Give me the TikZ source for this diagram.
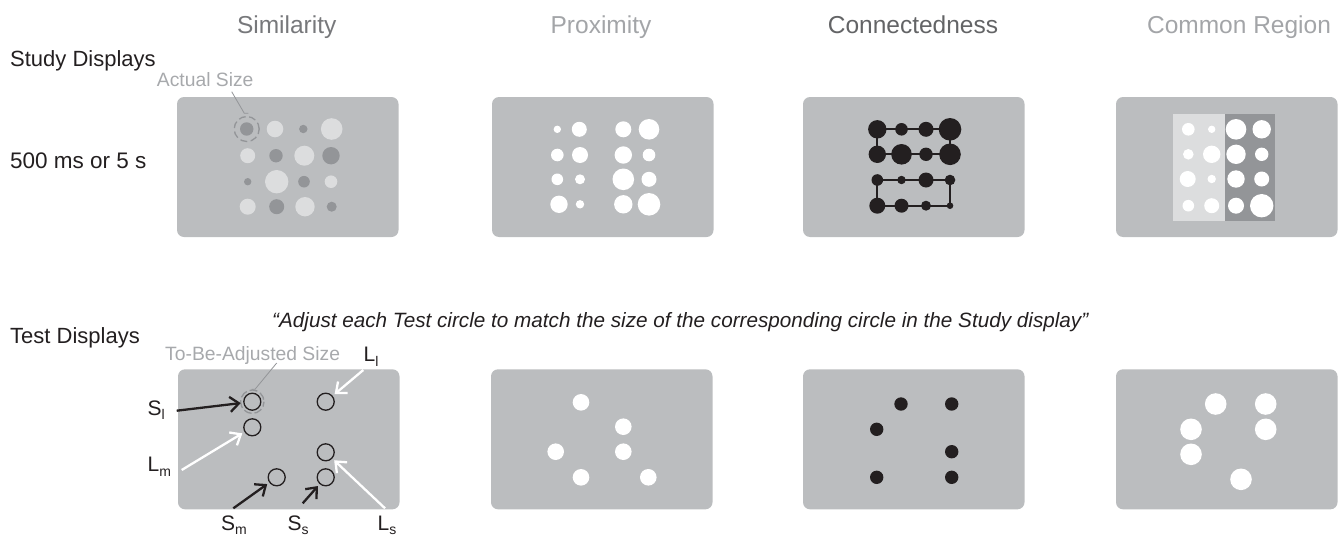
\documentclass[tikz,border=0pt]{standalone}
\usepackage{fontspec}
\setmainfont{Liberation Sans}
\usetikzlibrary{arrows.meta}
\definecolor{panelc}{HTML}{BBBDBF}
\definecolor{lightc}{HTML}{DCDDDE}
\definecolor{darkc}{HTML}{939598}
\definecolor{inkc}{HTML}{231F20}
\definecolor{simc}{HTML}{77787B}
\definecolor{proxc}{HTML}{A3A5A8}
\definecolor{connc}{HTML}{636466}
\definecolor{grayt}{HTML}{A7A9AC}
\newcommand\pdot[4]{\fill[#4] (#1,#2) circle[radius=#3];}
\newcommand\lbsub[2]{#1\raisebox{-0.22em}{\fontsize{14}{14}\selectfont #2}}
\begin{document}
\begin{tikzpicture}[x=1pt,y=-1pt,
  title/.style={anchor=base,inner sep=0pt,font=\fontsize{24.5}{26}\selectfont},
  rowlab/.style={anchor=base west,inner sep=0pt,text=inkc,font=\fontsize{22}{24}\selectfont},
  graylab/.style={anchor=base west,inner sep=0pt,text=grayt,font=\fontsize{19.3}{21}\selectfont},
  sllab/.style={anchor=base west,inner sep=0pt,text=inkc,font=\fontsize{21}{23}\selectfont},
  panel/.style={fill=panelc,rounded corners=7pt},
  tcirc/.style={circle,draw=inkc,line width=1.3pt,inner sep=0pt,minimum size=17pt},
  leader/.style={draw=darkc,line width=0.8pt},
  dcirc/.style={draw=darkc,line width=1.3pt,dash pattern=on 7pt off 3.5pt},
  blkarr/.style={draw=inkc,line width=2.3pt,-{Straight Barb[length=9pt,width=15pt]},shorten >=2.5pt},
  whtarr/.style={draw=white,line width=2.3pt,-{Straight Barb[length=9pt,width=15pt]},shorten >=2.5pt},
  cline/.style={draw=inkc,line width=1.8pt}]
\useasboundingbox (0,0) rectangle (1338,538);
% titles
\node[title,text=simc] (tSim) at (286.7,33.3) {Similarity};
\node[title,text=proxc] (tProx) at (601,33.3) {Proximity};
\node[title,text=connc] (tConn) at (913,33.3) {Connectedness};
\node[title,text=proxc] (tCR) at (1239,33.3) {Common Region};
% row labels
\node[rowlab] (studyd) at (10,66.7) {Study Displays};
\node[rowlab,font=\fontsize{22.5}{24}\selectfont] (dur) at (10,168.3) {500 ms or 5 s};
\node[rowlab] (testd) at (10,343) {Test Displays};
\node[anchor=base west,inner sep=0pt,text=inkc,font=\fontsize{20.7}{22}\selectfont\itshape] (quote) at (272,327)
  {“Adjust each Test circle to match the size of the corresponding circle in the Study display”};
% study panels
\foreach \xx in {177,492,803,1116} {\path[panel] (\xx,97) rectangle +(221.5,140);}
% test panels
\foreach \xx in {178,491,803,1116} {\path[panel] (\xx,369.3) rectangle +(221.5,140);}
% ---- Similarity study
\pdot{246.7}{129}{6.7}{darkc}\pdot{275}{129}{8.3}{lightc}\pdot{303.3}{129}{4.2}{darkc}\pdot{331.7}{129}{10.8}{lightc}
\pdot{247.7}{155.7}{7.5}{lightc}\pdot{276}{155.7}{6.7}{darkc}\pdot{304.3}{155.7}{10}{lightc}\pdot{331}{155.7}{8.7}{darkc}
\pdot{247.7}{181.7}{3.7}{darkc}\pdot{276.7}{181.7}{11.7}{lightc}\pdot{304}{181.7}{5.8}{darkc}\pdot{331}{181.7}{6.3}{lightc}
\pdot{247.7}{206.7}{8}{lightc}\pdot{276.7}{206.7}{7.5}{darkc}\pdot{305}{206.7}{9.7}{lightc}\pdot{331.7}{206.7}{5}{darkc}
\draw[dcirc,dash phase=2pt] (246.7,129) circle[radius=12.5];
\node[graylab] (actual) at (156.7,86.7) {Actual Size};
\coordinate (actE) at (244.3,113.3);
\draw[leader] (231.7,91.7) -- (actE) -- ++(4,0);
% ---- Proximity study
\pdot{557.3}{129.3}{3.7}{white}\pdot{579.3}{129.3}{7.5}{white}\pdot{623.3}{129.3}{8}{white}\pdot{649}{129.3}{10.3}{white}
\pdot{557.3}{155}{6.3}{white}\pdot{580}{155}{8}{white}\pdot{623.3}{155}{8.7}{white}\pdot{649}{155}{6.3}{white}
\pdot{557.3}{179.3}{5.8}{white}\pdot{580}{179.3}{5}{white}\pdot{623.3}{179.3}{10.8}{white}\pdot{649}{179.3}{7.5}{white}
\pdot{559}{204.3}{8.7}{white}\pdot{580}{204.3}{4.2}{white}\pdot{623.3}{204.3}{9.2}{white}\pdot{649}{204.3}{11.3}{white}
% ---- Connectedness study
\foreach \n/\xx in {1/877.3,2/901.5,3/926,4/950}{
  \foreach \m/\yy in {1/129.3,2/154.3,3/180,4/205.7}{\coordinate (c\m\n) at (\xx,\yy);}}
\draw[cline] (c21) -- (c11) -- (c12) -- (c13) -- (c14) -- (c24) -- (c23) -- (c22) -- (c21);
\draw[cline] (c41) -- (c31) -- (c32) -- (c33) -- (c34) -- (c44) -- (c43) -- (c42) -- (c41);
\foreach \c/\r in {c11/9.2,c12/6.3,c13/7.5,c14/11.3,c21/8.7,c22/10.3,c23/6.7,c24/10.8,
                   c31/5.8,c32/4.2,c33/7.5,c34/5.3,c41/8,c42/7,c43/5,c44/3.3}{\fill[inkc] (\c) circle[radius=\r];}
% ---- Common region study
\fill[lightc] (1173.3,114) rectangle (1225,220.7);
\fill[darkc] (1225,114) rectangle (1275,220.7);
\pdot{1188.3}{129.3}{6.3}{white}\pdot{1211.7}{129.3}{3.7}{white}\pdot{1236}{129.3}{10.3}{white}\pdot{1261.7}{129.3}{9.2}{white}
\pdot{1188.3}{154.3}{5.3}{white}\pdot{1211.7}{154.3}{8.7}{white}\pdot{1236}{154.3}{9.7}{white}\pdot{1261.7}{154.3}{6.7}{white}
\pdot{1187.7}{179}{8}{white}\pdot{1211.7}{179}{4.2}{white}\pdot{1236}{179}{8.7}{white}\pdot{1261.7}{179}{7.5}{white}
\pdot{1188.3}{205.7}{5.8}{white}\pdot{1211.7}{205.7}{7.5}{white}\pdot{1236}{205.7}{8}{white}\pdot{1261.7}{205.7}{11.7}{white}
% ---- Similarity test
\node[tcirc] (Sl) at (252.3,401.7) {};
\node[tcirc] (Lm) at (252.3,427.3) {};
\node[tcirc] (Ll) at (325.7,401.7) {};
\node[tcirc] (Ls) at (325.7,452.3) {};
\node[tcirc] (Ss) at (325.7,477.3) {};
\node[tcirc] (Sm) at (276.7,477.3) {};
\draw[dcirc,dash pattern=on 8pt off 3pt,dash phase=3pt] (Sl.center) circle[radius=11.7];
\node[graylab] (tba) at (165,360.7) {To-Be-Adjusted Size};
\coordinate (tbaE) at (255,389.3);
\draw[leader] (276.7,363) -- (tbaE) -- ++(-3.5,0);
\node[sllab] (lSl) at (147.5,415) {\lbsub{S}{l}};
\node[sllab] (lLm) at (147.5,471.7) {\lbsub{L}{m}};
\node[sllab] (lLl) at (363.5,361.5) {\lbsub{L}{l}};
\node[sllab] (lSm) at (221,530) {\lbsub{S}{m}};
\node[sllab] (lSs) at (287.5,530) {\lbsub{S}{s}};
\node[sllab] (lLs) at (377.5,530) {\lbsub{L}{s}};
\coordinate (aSl) at (176.7,410.7);
\coordinate (aLm) at (181.7,470);
\coordinate (aLl) at (363.3,370);
\coordinate (aLs) at (385,508.3);
\coordinate (aSm) at (233.3,508.3);
\coordinate (aSs) at (302.7,503.3);
\draw[blkarr] (aSl) -- (Sl);
\draw[whtarr] (aLm) -- (Lm);
\draw[whtarr] (aLl) -- (Ll);
\draw[whtarr] (aLs) -- (Ls);
\draw[blkarr] (aSm) -- (Sm);
\draw[blkarr] (aSs) -- (Ss);
% ---- Proximity test
\foreach \p in {(581,402.3),(623.3,426.7),(555.7,451.7),(623.3,451.7),(581,477.3),(648.3,477.3)}{\fill[white] \p circle[radius=8.3];}
% ---- Connectedness test
\foreach \p in {(901,404),(951.7,404),(876.7,429.3),(951.7,451.7),(876.7,477.3),(951.7,477.3)}{\fill[inkc] \p circle[radius=6.7];}
% ---- Common region test
\foreach \p in {(1215.7,404),(1265.7,404),(1191,429.3),(1265.7,429.3),(1191,454.3),(1241,479.3)}{\fill[white] \p circle[radius=10.8];}
\end{tikzpicture}
\end{document}
